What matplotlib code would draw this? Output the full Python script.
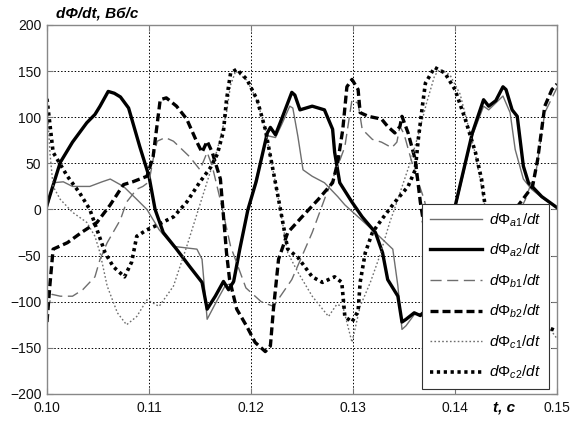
import matplotlib.pyplot as plt

plt.rcParams['font.family'] = ['Liberation Sans', 'DejaVu Sans']
plt.rcParams['mathtext.fontset'] = 'custom'
plt.rcParams['mathtext.rm'] = 'Liberation Sans'
plt.rcParams['mathtext.it'] = 'Liberation Sans:italic'

# --- data (t in s, dPhi/dt in Wb/s) ---
t_a1 = [0.1000, 0.1006, 0.1016, 0.1025, 0.1042, 0.1054, 0.1062, 0.1075, 0.1088, 0.1098,
        0.1110, 0.1124, 0.1147, 0.1152, 0.1157, 0.1167, 0.1175, 0.1183, 0.1189, 0.1197,
        0.1216, 0.1224, 0.1230, 0.1238, 0.1241, 0.1246, 0.1251, 0.1260, 0.1272, 0.1285,
        0.1292, 0.1307, 0.1319, 0.1339, 0.1344, 0.1348, 0.1352, 0.1360, 0.1370, 0.1385,
        0.1400, 0.1417, 0.1428, 0.1433, 0.1447, 0.1454, 0.1459, 0.1467, 0.1475, 0.1485, 0.1500]
y_a1 = [0, 29, 30, 25, 25, 30, 33, 25, 11, 0,
        -22, -40, -43, -54, -119, -98, -82, -80, -43, 0,
        80, 78, 92, 112, 110, 79, 43, 36, 29, 14,
        5, -10, -22, -43, -83, -130, -126, -114, -112, -70,
        0, 80, 112, 108, 123, 105, 65, 33, 22, 13, 2]

t_a2 = [0.1000, 0.1013, 0.1025, 0.1039, 0.1047, 0.1052, 0.1060, 0.1066, 0.1072, 0.1080,
        0.1091, 0.1100, 0.1106, 0.1114, 0.1127, 0.1140, 0.1152, 0.1157, 0.1165, 0.1173,
        0.1178, 0.1183, 0.1189, 0.1197, 0.1205, 0.1216, 0.1219, 0.1224, 0.1230, 0.1240,
        0.1243, 0.1248, 0.1260, 0.1272, 0.1280, 0.1282, 0.1287, 0.1299, 0.1309, 0.1322,
        0.1329, 0.1334, 0.1344, 0.1348, 0.1352, 0.1360, 0.1366, 0.1375, 0.1386, 0.1400,
        0.1417, 0.1428, 0.1433, 0.1440, 0.1447, 0.1450, 0.1456, 0.1461, 0.1467, 0.1472,
        0.1485, 0.1500]
y_a2 = [5, 51, 73, 94, 103, 112, 128, 126, 122, 110,
        68, 36, 0, -25, -43, -62, -79, -108, -94, -78,
        -87, -78, -43, 0, 30, 83, 89, 81, 98, 127,
        124, 108, 112, 108, 87, 62, 29, 8, -8, -25,
        -47, -76, -94, -122, -119, -112, -115, -105, -75, 3,
        83, 119, 112, 118, 133, 130, 108, 101, 47, 29,
        14, 2]

t_b1 = [0.1000, 0.1005, 0.1013, 0.1025, 0.1035, 0.1047, 0.1052, 0.1059, 0.1072, 0.1078,
        0.1088, 0.1094, 0.1100, 0.1105, 0.1108, 0.1116, 0.1124, 0.1140, 0.1150, 0.1157,
        0.1162, 0.1170, 0.1180, 0.1195, 0.1210, 0.1222, 0.1240, 0.1260, 0.1273, 0.1285,
        0.1292, 0.1299, 0.1305, 0.1309, 0.1319, 0.1328, 0.1338, 0.1343, 0.1346, 0.1350,
        0.1357, 0.1363, 0.1370, 0.1380, 0.1395, 0.1410, 0.1422, 0.1440, 0.1460, 0.1469,
        0.1480, 0.1488, 0.1500]
y_b1 = [-110, -92, -94, -94, -87, -73, -54, -36, -11, 8,
        22, 25, 30, 60, 74, 78, 74, 57, 43, 62,
        47, 10, -40, -85, -100, -105, -76, -25, 14, 47,
        68, 119, 115, 87, 76, 73, 67, 73, 90, 82,
        54, 33, 10, -40, -85, -100, -105, -76, -10, 11,
        45, 105, 132]

t_b2 = [0.1000, 0.1003, 0.1006, 0.1020, 0.1035, 0.1049, 0.1062, 0.1075, 0.1084, 0.1098,
        0.1104, 0.1111, 0.1117, 0.1127, 0.1137, 0.1147, 0.1152, 0.1157, 0.1162, 0.1170,
        0.1176, 0.1179, 0.1186, 0.1196, 0.1204, 0.1208, 0.1214, 0.1219, 0.1222, 0.1227,
        0.1236, 0.1250, 0.1266, 0.1280, 0.1285, 0.1290, 0.1294, 0.1299, 0.1305, 0.1307,
        0.1315, 0.1328, 0.1334, 0.1341, 0.1346, 0.1348, 0.1354, 0.1361, 0.1366, 0.1370,
        0.1376, 0.1380, 0.1386, 0.1396, 0.1404, 0.1414, 0.1419, 0.1422, 0.1427, 0.1436,
        0.1450, 0.1461, 0.1476, 0.1481, 0.1488, 0.1495, 0.1500]
y_b2 = [-122, -80, -43, -36, -24, -14, 5, 27, 30, 36,
        57, 119, 121, 112, 98, 73, 62, 74, 62, 33,
        -47, -76, -108, -127, -144, -148, -154, -148, -108, -54,
        -25, -8, 11, 29, 51, 87, 133, 141, 130, 105,
        101, 98, 90, 83, 90, 101, 83, 54, 8, -20,
        -47, -76, -108, -127, -144, -154, -148, -108, -54, -25,
        -8, 3, 25, 54, 112, 130, 136]

t_c1 = [0.1000, 0.1003, 0.1006, 0.1013, 0.1025, 0.1039, 0.1047, 0.1052, 0.1059, 0.1069,
        0.1078, 0.1088, 0.1098, 0.1110, 0.1124, 0.1137, 0.1147, 0.1157, 0.1167, 0.1176,
        0.1180, 0.1185, 0.1196, 0.1206, 0.1214, 0.1227, 0.1236, 0.1246, 0.1260, 0.1276,
        0.1284, 0.1290, 0.1299, 0.1307, 0.1317, 0.1326, 0.1336, 0.1343, 0.1357, 0.1365,
        0.1372, 0.1380, 0.1385, 0.1395, 0.1405, 0.1420, 0.1430, 0.1445, 0.1460, 0.1475,
        0.1490, 0.1500]
y_c1 = [115, 60, 25, 11, -3, -14, -29, -47, -83, -112,
        -125, -116, -98, -105, -83, -40, -5, 30, 65, 105,
        135, 150, 140, 118, 87, 11, -47, -68, -94, -116,
        -103, -105, -144, -105, -79, -51, -14, 8, 54, 85,
        115, 145, 152, 146, 125, 60, 0, -60, -90, -115,
        -125, -140]

t_c2 = [0.1000, 0.1006, 0.1020, 0.1032, 0.1042, 0.1050, 0.1057, 0.1065, 0.1076, 0.1083,
        0.1088, 0.1098, 0.1106, 0.1124, 0.1137, 0.1150, 0.1160, 0.1167, 0.1173, 0.1176,
        0.1180, 0.1186, 0.1196, 0.1206, 0.1214, 0.1227, 0.1236, 0.1246, 0.1260, 0.1270,
        0.1282, 0.1289, 0.1292, 0.1299, 0.1305, 0.1307, 0.1312, 0.1319, 0.1328, 0.1341,
        0.1354, 0.1361, 0.1364, 0.1368, 0.1371, 0.1380, 0.1390, 0.1400, 0.1410, 0.1420,
        0.1426, 0.1429, 0.1445, 0.1465, 0.1485, 0.1500]
y_c2 = [120, 62, 36, 18, 0, -25, -47, -62, -73, -57,
        -29, -22, -18, -8, 8, 30, 45, 60, 85, 119,
        148, 152, 141, 119, 87, 11, -43, -52, -73, -79,
        -73, -79, -116, -122, -110, -79, -47, -25, -11, 8,
        25, 43, 76, 112, 137, 154, 148, 130, 98, 62,
        33, 8, -60, -100, -125, -132]

labels = [r'$\mathit{d\Phi_{a1}/dt}$', r'$\mathit{d\Phi_{a2}/dt}$',
          r'$\mathit{d\Phi_{b1}/dt}$', r'$\mathit{d\Phi_{b2}/dt}$',
          r'$\mathit{d\Phi_{c1}/dt}$', r'$\mathit{d\Phi_{c2}/dt}$']

fig = plt.figure(figsize=(5.78, 4.23), dpi=100)
ax = fig.add_axes([0.0813, 0.0686, 0.8824, 0.8723])

gray = '#6e6e6e'
ax.plot(t_a1, y_a1, color=gray, lw=1.0, label=labels[0])
ax.plot(t_a2, y_a2, color='black', lw=2.4, label=labels[1])
ax.plot(t_b1, y_b1, color=gray, lw=1.0, linestyle=(0, (8, 4)), label=labels[2])
ax.plot(t_b2, y_b2, color='black', lw=2.4, linestyle=(0, (2.4, 1.2)), label=labels[3])
ax.plot(t_c1, y_c1, color=gray, lw=1.0, linestyle=(0, (1.2, 1.6)), label=labels[4])
ax.plot(t_c2, y_c2, color='black', lw=2.6, linestyle=(0, (0.9, 1.0)), label=labels[5])

ax.set_xlim(0.10, 0.15)
ax.set_ylim(-200, 200)
ax.set_xticks([0.10, 0.11, 0.12, 0.13, 0.14, 0.15])
ax.set_xticklabels(['0.10', '0.11', '0.12', '0.13', '0.14', '0.15'])
ax.set_yticks([-200, -150, -100, -50, 0, 50, 100, 150, 200])
ax.tick_params(direction='in', top=True, right=True, length=4, width=0.8,
               color='#777777', labelsize=10, labelcolor='#111111')
ax.tick_params(axis='x', pad=5)
ax.tick_params(axis='y', pad=4)
ax.grid(True, color='black', linestyle=(0, (1.5, 2)), linewidth=0.7)
for s in ax.spines.values():
    s.set_color('#888888')
    s.set_linewidth(1.0)

leg = ax.legend(loc='lower right', bbox_to_anchor=(0.984, 0.0136), fontsize=11,
                handlelength=3.4, handletextpad=0.45, labelspacing=0.86,
                borderpad=0.5, borderaxespad=0, fancybox=False, framealpha=1,
                edgecolor='#333333')
leg.get_frame().set_linewidth(0.8)

fig.text(0.097, 0.968, 'dΦ/dt, Вб/с', fontsize=11, fontweight='bold', style='italic',
         va='center', ha='left')
fig.text(0.853, 0.036, 't, c', fontsize=11, fontweight='bold', style='italic',
         va='center', ha='left')

fig.savefig('out.png', dpi=100)
